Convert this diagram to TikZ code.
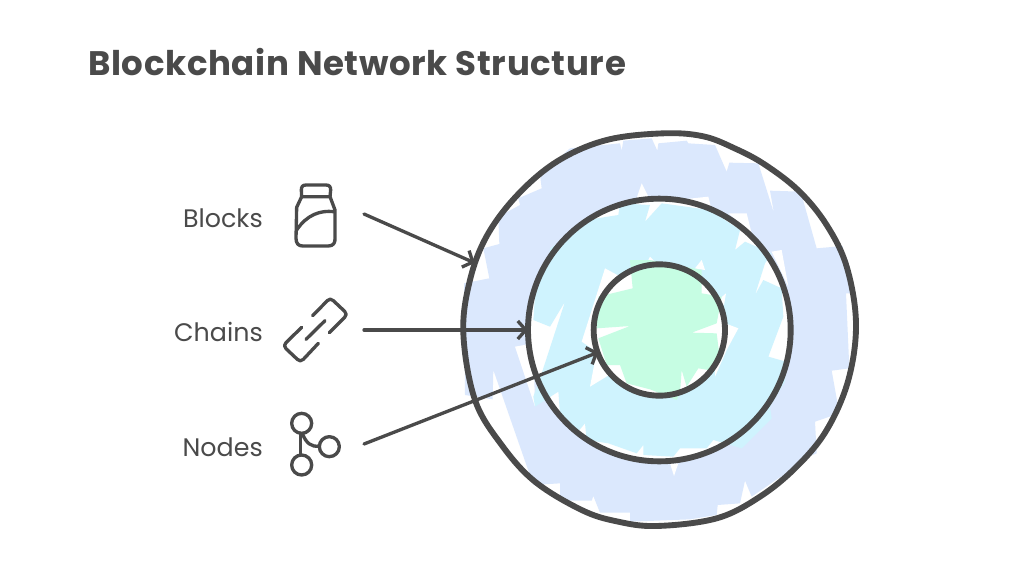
\documentclass[tikz,border=0pt]{standalone}
\usepackage{fontspec}
\setmainfont{Poppins}
\newfontfamily\titlefont[LetterSpace=1.9]{Poppins}
\usetikzlibrary{arrows.meta}
\definecolor{ink}{HTML}{4A4A4A}
\definecolor{bluefill}{HTML}{DBE8FD}
\definecolor{cyanfill}{HTML}{CFF3FE}
\definecolor{greenfill}{HTML}{C6FDE3}
\tikzset{
  zoomA/.style={shift={(450,120)},x=0.25pt,y=-0.25pt},
  zoomB/.style={shift={(270,170)},x=0.25pt,y=-0.25pt},
  anchorcircle/.style={circle,inner sep=0pt,outer sep=0pt,minimum size=#1*0.75pt},
  ringline/.style={draw=ink,line width=4.4pt,line join=round},
  iconline/.style={draw=ink,line width=2.5pt,line cap=round,line join=round},
  pointer/.style={draw=ink,line width=2.5pt,line cap=round,-{Straight Barb[length=6pt,width=13.5pt,line width=2.5pt]}},
  labeltext/.style={text=ink,font=\fontsize{19pt}{22pt}\selectfont,anchor=east,inner sep=0pt},
  titletext/.style={text=ink,font=\titlefont\fontsize{25.5pt}{30pt}\selectfont\bfseries,anchor=west,inner sep=0pt}
}
\begin{document}
\begin{tikzpicture}[x=0.75pt,y=-0.75pt]
\useasboundingbox (0,0) rectangle (1024,578);
\fill[white] (0,0) rectangle (1024,578);

\begin{scope}[zoomA]
  % outer hachure
  \fill[bluefill] (360,85)--(510,70)--(515,92)--(520,62)--(605,55)--(622,92)--(625,70)--(710,62)--(715,70)--(795,75)--(830,155)--(838,128)--(925,130)--(972,280)--(960,212)--(1052,215)--(1100,385)--(1178,378)--(1200,520)--(1188,520)--(1198,745)--(1145,752)--(1168,880)--(1095,905)--(1100,1000)--(1050,1020)--(1050,1040)--(985,1075)--(905,1130)--(885,1082)--(870,1150)--(803,1155)--(800,1185)--(720,1198)--(540,1205)--(540,1178)--(450,1178)--(430,1128)--(425,1142)--(330,1142)--(330,1090)--(250,1095)--(130,750)--(128,838)--(45,825)--(42,490)--(118,475)--(100,385)--(148,372)--(145,290)--(210,255)--(205,235)--(275,205)--(270,165)--cycle;
  % white around the middle ring
  \fill[white] (628,630) circle[radius=398];
  \fill[white] (575,190)--(558,240)--(600,240)--cycle;
  \fill[white] (680,240)--(775,230)--(785,270)--cycle;
  \fill[white] (835,280)--(890,280)--(905,340)--cycle;
  \fill[white] (965,395)--(995,390)--(1015,500)--cycle;
  \fill[white] (195,680)--(250,670)--(255,860)--cycle;
  \fill[white] (660,1030)--(672,1068)--(685,1030)--cycle;
  % middle hachure
  \fill[cyanfill] (340,360)--(410,300)--(505,285)--(510,250)--(600,255)--(585,305)--(635,250)--(780,270)--(870,330)--(855,390)--(885,365)--(965,400)--(945,430)--(915,525)--(940,480)--(995,505)--(1000,590)--(955,710)--(1008,725)--(1005,785)--(960,860)--(965,895)--(875,985)--(790,960)--(770,985)--(690,985)--(670,1010)--(580,1005)--(580,975)--(560,1000)--(475,970)--(410,960)--(405,910)--(380,940)--(330,880)--(325,815)--(255,860)--(250,830)--(275,760)--(345,545)--(300,620)--(250,600)--(258,480)--(295,430)--(300,385)--cycle;
  % white around the inner ring
  \fill[white] (628,630) circle[radius=197];
  \fill[white] (465,445)--(395,665)--(440,695)--(420,800)--(510,745)--(628,630)--(548,490)--cycle;
  \fill[white] (865,625)--(800,600)--(795,770)--(830,690)--cycle;
  \fill[white] (755,420)--(735,445)--(765,450)--cycle;
  \fill[white] (828,520)--(805,540)--(822,555)--cycle;
  \fill[white] (600,410)--(585,440)--(630,440)--cycle;
  % inner hachure
  \fill[greenfill] (445,530)--(548,505)--(540,420)--(600,420)--(755,450)--(755,520)--(815,530)--(800,610)--(725,638)--(800,640)--(810,720)--(775,750)--(745,745)--(710,800)--(695,750)--(690,820)--(680,840)--(600,808)--(530,790)--(510,735)--(470,735)--(445,655)--(540,618)--(440,625)--cycle;
\end{scope}

% named ring anchors
\node[anchorcircle=392] (outer) at (659,330) {};
\node[anchorcircle=262] (middle) at (659,330) {};
\node[anchorcircle=130] (inner) at (659.5,330) {};

\begin{scope}[zoomA]
  \draw[ringline] plot[smooth cycle,tension=0.6] coordinates {(640,40)(760,49)(856,86)(945,134)(1047,213)(1130,315)(1190,440)(1218,610)(1195,780)(1130,930)(1040,1040)(930,1130)(800,1195)(620,1218)(500,1204)(395,1170)(255,1085)(155,975)(75,840)(40,640)(60,480)(112,345)(205,222)(325,122)(470,60)};
  \draw[ringline] (628,630) circle[radius=394];
  \draw[ringline] (628,630) circle[radius=197];
\end{scope}

% labels and free ends
\node[titletext] (title) at (88,62) {Blockchain Network Structure};
\node[labeltext] (blocks) at (263,218) {Blocks};
\node[labeltext] (chains) at (263,332) {Chains};
\node[labeltext] (nodes) at (263,447) {Nodes};
\coordinate (blocksstart) at (364,214);
\coordinate (chainsstart) at (364,330);
\coordinate (nodesstart) at (364,444);

\draw[pointer] (blocksstart) -- (outer.160);
\draw[pointer] (chainsstart) -- (middle.180);
\draw[pointer] (nodesstart) -- (inner.200);

% icons
\begin{scope}[zoomB]
  \draw[iconline] (108,45) -- (168,45) .. controls (178,45) and (182,50) .. (182,60) -- (180,80) -- (95,80) -- (94,60) .. controls (94,50) and (98,45) .. (108,45) -- cycle;
  \draw[iconline] (95,80) -- (80,112) -- (78,205) .. controls (78,220) and (85,228) .. (98,228) -- (175,228) .. controls (190,228) and (196,218) .. (195,205) -- (195,120) -- (180,80);
  \draw[iconline] (80,180) .. controls (110,135) and (150,120) .. (192,125);
  \draw[iconline] (128,437) -- (172,392) .. controls (178,386) and (184,386) .. (190,392) -- (224,424) .. controls (230,430) and (230,436) .. (224,442) -- (178,488);
  \draw[iconline] (95,472) -- (48,518) .. controls (42,524) and (42,530) .. (48,536) -- (82,568) .. controls (88,574) and (94,574) .. (100,568) -- (145,520);
  \draw[iconline] (108,508) -- (165,452);
  \draw[iconline] (95,760) circle[radius=30];
  \draw[iconline] (178,830) circle[radius=30];
  \draw[iconline] (95,885) circle[radius=30];
  \draw[iconline] (92,790) -- (92,855);
  \draw[iconline] (97,790) .. controls (108,820) and (125,832) .. (148,828);
\end{scope}
\end{tikzpicture}
\end{document}
